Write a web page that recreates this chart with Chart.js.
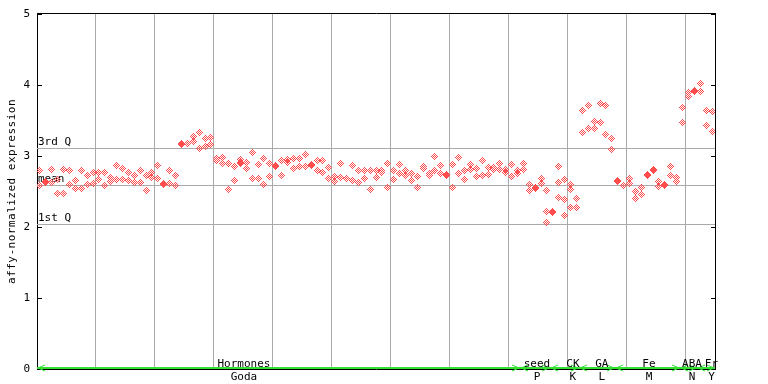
<!DOCTYPE html>
<html><head><meta charset="utf-8">
<script src="https://cdn.jsdelivr.net/npm/chart.js@4/dist/chart.umd.min.js"></script>
<style>html,body{margin:0;padding:0;background:#fff;}#wrap{width:768px;height:384px;position:relative;}</style>
</head><body><div id="wrap"><canvas id="c" width="768" height="384"></canvas></div>
<script>
// replicate values per sample column (index 0..114)
const rep1 = [
2.80,2.635,2.81,2.67,2.81,2.79,2.66,2.80,2.73,2.77,
2.77,2.77,2.70,2.86,2.83,2.77,2.73,2.79,2.73,2.77,
2.86,2.615,2.80,2.73,3.175,3.18,3.27,3.33,3.25,3.26,
2.97,2.98,2.90,2.85,2.95,2.91,3.05,2.88,2.97,2.90,
2.87,2.93,2.95,2.96,2.97,3.02,2.885,2.93,2.94,2.84,
2.71,2.90,2.68,2.87,2.79,2.79,2.80,2.80,2.80,2.90,
2.80,2.88,2.80,2.76,2.71,2.85,2.76,2.99,2.87,2.735,
2.88,2.98,2.80,2.88,2.83,2.94,2.84,2.84,2.90,2.805,
2.88,2.79,2.90,2.60,2.555,2.68,2.52,2.225,2.85,2.67,
2.60,2.395,3.64,3.71,3.49,3.74,3.71,3.25,2.655,2.59,
2.69,2.50,2.56,2.735,2.815,2.64,2.595,2.85,2.70,3.69,
3.90,3.925,4.02,3.64,3.63
];
const rep2 = [
2.59,2.621,2.63,2.47,2.47,2.60,2.54,2.54,2.60,2.61,
2.67,2.59,2.64,2.67,2.67,2.66,2.63,2.63,2.52,2.70,
2.69,2.601,2.61,2.59,3.161,null,3.21,3.10,3.14,3.16,
2.93,2.90,2.53,2.66,2.91,2.83,2.69,2.69,2.60,2.71,
2.85,2.72,2.91,2.82,2.85,2.85,2.871,2.79,2.77,2.68,
2.64,2.70,null,2.65,2.63,2.68,2.53,2.70,2.77,2.55,
2.67,2.76,2.72,2.66,2.55,2.83,2.72,2.80,2.76,2.721,
2.56,2.76,2.67,2.81,2.71,2.72,2.74,2.81,2.81,2.77,
2.71,2.76,2.81,2.51,2.54,2.61,2.22,2.20,2.63,2.39,
2.53,2.28,3.33,3.39,3.39,3.47,3.30,3.09,2.641,null,
2.61,2.40,2.46,2.721,2.80,2.57,2.58,2.73,2.64,3.47,
3.84,3.91,3.91,3.43,3.35
];
const rep3 = [
null,null,null,null,null,null,null,null,null,null,
null,null,null,null,null,null,null,null,null,null,
null,null,null,null,null,null,null,null,null,null,
null,null,null,null,2.89,null,null,null,null,null,
null,null,null,null,null,null,null,null,null,null,
null,null,null,null,null,null,null,null,null,null,
null,null,null,null,null,null,null,null,null,null,
null,null,null,null,null,null,null,null,null,null,
null,null,null,null,null,null,2.07,null,2.42,2.16,
2.27,null,null,null,null,null,null,null,null,null,
null,null,null,null,null,null,null,null,null,null,
null,null,null,null,null
];
const groupNames = ['Hormones','seed','CK','GA','Fe','ABA','Fr'];
const groupCodes = ['Goda','P','K','L','M','N','Y'];
const groupStart = [0,82,87,92,98,109,112];
const groupLabelAt = [34.6,84.3,90.4,95.3,103.3,110.6,113.9];
const quartileValues = [3.108,2.587,2.038];
const quartileLabels = ['3rd Q','mean','1st Q'];
const yTicks = [0,1,2,3,4,5];
const gridAt = [9.5,19.5,29.5,39.5,49.5,59.5,69.5,79.5,89.5,99.5,109.5];
const nSamples = rep1.length;

const FONT = '11px "DejaVu Sans Mono"';
const pts = [];
[rep1,rep2,rep3].forEach(r => r.forEach((v,i) => { if (v !== null) pts.push({x:i, y:v}); }));

function diamond(color){
  const c = document.createElement('canvas'); c.width = 7; c.height = 7;
  const g = c.getContext('2d'); g.fillStyle = color;
  for (let y=0;y<7;y++) for (let x=0;x<7;x++)
    if (Math.abs(x-3)+Math.abs(y-3) <= 3 && (x+y)%2 === 1) g.fillRect(x,y,1,1);
  return c;
}
const marker = diamond('#ff4d4d');

const decor = {
  id:'decor',
  beforeDatasetsDraw(chart){
    const ctx = chart.ctx, ca = chart.chartArea, ys = chart.scales.y;
    ctx.save();
    ctx.strokeStyle = '#aaaaaa'; ctx.lineWidth = 1;
    ctx.font = FONT; ctx.fillStyle = '#000'; ctx.textAlign = 'left'; ctx.textBaseline = 'alphabetic';
    quartileValues.forEach((v,k) => {
      const y = Math.round(ys.getPixelForValue(v)) + 0.5;
      ctx.beginPath(); ctx.moveTo(ca.left, y); ctx.lineTo(ca.right, y); ctx.stroke();
      ctx.fillText(quartileLabels[k], ca.left + 1, y - 3.5);
    });
    ctx.restore();
    ctx.imageSmoothingEnabled = false;
  },
  afterDatasetsDraw(chart){
    const ctx = chart.ctx, ca = chart.chartArea, xs = chart.scales.x, ys = chart.scales.y;
    ctx.save();
    // frame
    ctx.strokeStyle = '#000'; ctx.lineWidth = 1;
    ctx.beginPath();
    ctx.moveTo(ca.left, ca.top - 0.5); ctx.lineTo(ca.right + 1, ca.top - 0.5);
    ctx.moveTo(ca.right + 0.5, ca.top - 0.5); ctx.lineTo(ca.right + 0.5, ca.bottom + 1);
    ctx.moveTo(ca.left, ca.bottom + 0.5); ctx.lineTo(ca.right + 1, ca.bottom + 0.5);
    yTicks.forEach(v => {
      const y = Math.round(ys.getPixelForValue(v)) + 0.5;
      ctx.moveTo(ca.left, y); ctx.lineTo(ca.left + 5, y);
      ctx.moveTo(ca.right - 4, y); ctx.lineTo(ca.right + 1, y);
    });
    ctx.stroke();
    // green group line
    ctx.strokeStyle = '#33e033'; ctx.lineWidth = 2;
    ctx.beginPath(); ctx.moveTo(ca.left, ca.bottom - 1); ctx.lineTo(ca.right, ca.bottom - 1); ctx.stroke();
    ctx.lineWidth = 1;
    groupStart.forEach((s,k) => {
      const e = (k + 1 < groupStart.length ? groupStart[k+1] : nSamples) - 1;
      const x0 = Math.round(xs.getPixelForValue(s - 0.5));
      const x1 = Math.round(xs.getPixelForValue(e + 0.5));
      const yy = ca.bottom - 1;
      ctx.beginPath();
      ctx.moveTo(x0 + 8, yy - 3); ctx.lineTo(x0 + 1, yy); ctx.lineTo(x0 + 8, yy + 3);
      ctx.moveTo(x1 - 8, yy - 3); ctx.lineTo(x1 - 1, yy); ctx.lineTo(x1 - 8, yy + 3);
      ctx.stroke();
    });
    // group labels
    ctx.font = FONT; ctx.fillStyle = '#000'; ctx.textAlign = 'center'; ctx.textBaseline = 'alphabetic';
    groupNames.forEach((n,k) => {
      const x = xs.getPixelForValue(groupLabelAt[k]);
      ctx.fillText(n, x, ca.bottom - 2.5);
      ctx.fillText(groupCodes[k], x, ca.bottom + 11);
    });
    // y title
    ctx.save();
    ctx.translate(12, (ca.top + ca.bottom) / 2);
    ctx.rotate(-Math.PI/2);
    try { ctx.letterSpacing = '0.5px'; } catch(e) {}
    ctx.textAlign = 'center'; ctx.textBaseline = 'middle';
    ctx.fillText('affy-normalized expression', 0, 0);
    ctx.restore();
    ctx.restore();
  }
};

new Chart(document.getElementById('c'), {
  type:'scatter',
  data:{ datasets:[{ data: pts, pointStyle: marker, pointRadius: 3.5, pointHoverRadius: 3.5,
    backgroundColor:'#ff4d4d', borderColor:'#ff4d4d', showLine:false }] },
  options:{
    responsive:false, animation:false, events:[],
    layout:{ padding:{ left:0, top:14, right:53, bottom:15 } },
    plugins:{ legend:{display:false}, tooltip:{enabled:false}, title:{display:false} },
    scales:{
      x:{ type:'linear', min:-0.5, max:nSamples - 0.5,
        afterBuildTicks: s => { s.ticks = gridAt.map(v => ({value:v})); },
        ticks:{ display:false }, grid:{ color:'#aaaaaa', lineWidth:1, drawTicks:false },
        border:{ display:false }, afterFit: s => { s.height = 0; } },
      y:{ type:'linear', min:0, max:5,
        afterBuildTicks: s => { s.ticks = yTicks.map(v => ({value:v})); },
        ticks:{ color:'#000', padding:7, font:{ family:'DejaVu Sans Mono', size:11 } },
        grid:{ display:false, drawTicks:false },
        border:{ display:true, color:'#000', width:1 },
        afterFit: s => { s.width = 37; } }
    }
  },
  plugins:[decor]
});
</script>
</body></html>
